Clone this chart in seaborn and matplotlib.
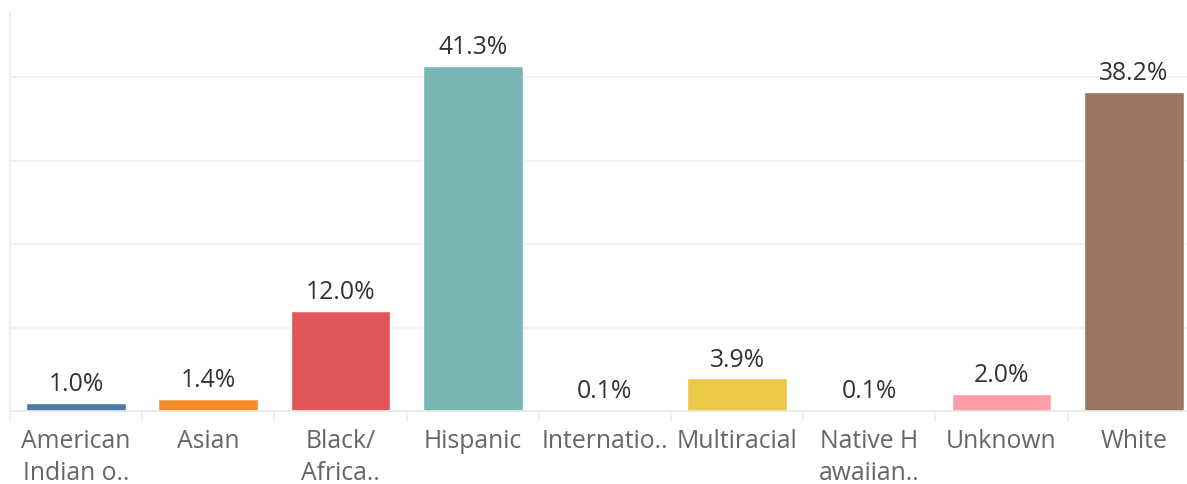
import numpy as np
import pandas as pd
import matplotlib
matplotlib.use("Agg")
import matplotlib.pyplot as plt
import matplotlib.transforms as mtrans
import seaborn as sns

categories = ['American Indian o..', 'Asian', 'Black/ Africa..', 'Hispanic', 'Internatio..',
              'Multiracial', 'Native H awaiian..', 'Unknown', 'White']
tick_labels = ['American\nIndian o..', 'Asian', 'Black/\nAfrica..', 'Hispanic', 'Internatio..',
               'Multiracial', 'Native H\nawaiian..', 'Unknown', 'White']
values = [1.0, 1.4, 12.0, 41.3, 0.1, 3.9, 0.1, 2.0, 38.2]
colors = ['#4e79a7', '#f28e2b', '#e15759', '#76b7b2', '#59a14f',
          '#edc948', '#b07aa1', '#ff9da7', '#9c755f']

df = pd.DataFrame({'group': categories, 'pct': values})

sns.set_style('white')
plt.rcParams['font.family'] = ['Open Sans', 'DejaVu Sans']

fig = plt.figure(figsize=(11.87, 4.85), dpi=100)
ax = fig.add_axes([10 / 1187, 73 / 485, 1177 / 1187, 399 / 485])

sns.barplot(data=df, x='group', y='pct', hue='group', palette=colors,
            legend=False, width=0.755, saturation=1, ax=ax)

ax.set_ylim(0, 47.8)
ax.set_xlim(-0.5, -0.5 + 1177 / 132.2)
ax.set_yticks([10, 20, 30, 40])
ax.yaxis.grid(True, color='#efefef', linewidth=1.2)
ax.set_axisbelow(True)
ax.tick_params(axis='y', left=False, labelleft=False)
ax.tick_params(axis='x', bottom=False, pad=9)
for s in ['top', 'right']:
    ax.spines[s].set_visible(False)
ax.spines['left'].set_color('#eeeeee')
ax.spines['left'].set_linewidth(1.5)
ax.spines['bottom'].set_color('#e6e6e6')
ax.spines['bottom'].set_linewidth(1.2)
ax.set_xlabel('')
ax.set_ylabel('')

ax.set_xticks(range(len(tick_labels)))
ax.set_xticklabels(tick_labels, fontsize=17.8, color='#666666', linespacing=1.35, va='top')

# category separators under the baseline
trans = mtrans.blended_transform_factory(ax.transData, ax.transAxes)
for b in np.arange(-0.5, len(categories), 1.0):
    ax.plot([b, b], [0, -0.026], transform=trans, color='#eeeeee', lw=1.2, clip_on=False)

for i, v in enumerate(values):
    ax.annotate(f'{v:.1f}%', (i, v), xytext=(0, 5), textcoords='offset points',
                ha='center', va='bottom', fontsize=17.8, color='#333333')

fig.savefig('out.png', dpi=100)
